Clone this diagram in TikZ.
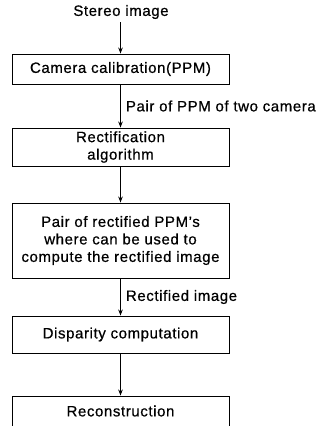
\documentclass[tikz,border=0pt]{standalone}
\usepackage{fontspec}
\setmainfont{Liberation Sans}[LetterSpace=4,FakeBold=0.6]
\usetikzlibrary{arrows.meta}
\begin{document}
\begin{tikzpicture}[x=1pt,y=-1pt,
  every node/.style={font=\fontsize{15}{17.5}\selectfont, inner sep=0pt},
  box/.style={draw, line width=0.9pt, minimum width=217pt, align=center},
  conn/.style={line width=0.9pt, -{Stealth[length=6pt,width=4.5pt]}},
  lbl/.style={right, xshift=5pt}]
\useasboundingbox (0,0) rectangle (322,426);
\node (stereo) at (121,12) {Stereo image};
\node[box, minimum height=30pt] (cal) at (120.5,69) {Camera calibration(PPM)};
\node[box, minimum height=38pt] (rect) at (120.5,147) {Rectification\\algorithm};
\node[box, minimum height=75pt] (pair) at (120.5,240.5) {Pair of rectified PPM's\\where can be used to\\compute the rectified image};
\node[box, minimum height=37pt] (disp) at (120.5,334.5) {Disparity computation};
\node[box, minimum height=30pt] (recon) at (120.5,411) {Reconstruction};
\draw[conn] (stereo.south -| cal.north) ++(0,3) -- (cal.north);
\draw[conn] (cal) -- node[lbl] {Pair of PPM of two camera} (rect);
\draw[conn] (rect) -- (pair);
\draw[conn] (pair) -- node[lbl] {Rectified image} (disp);
\draw[conn] (disp) -- (recon);
\end{tikzpicture}
\end{document}
